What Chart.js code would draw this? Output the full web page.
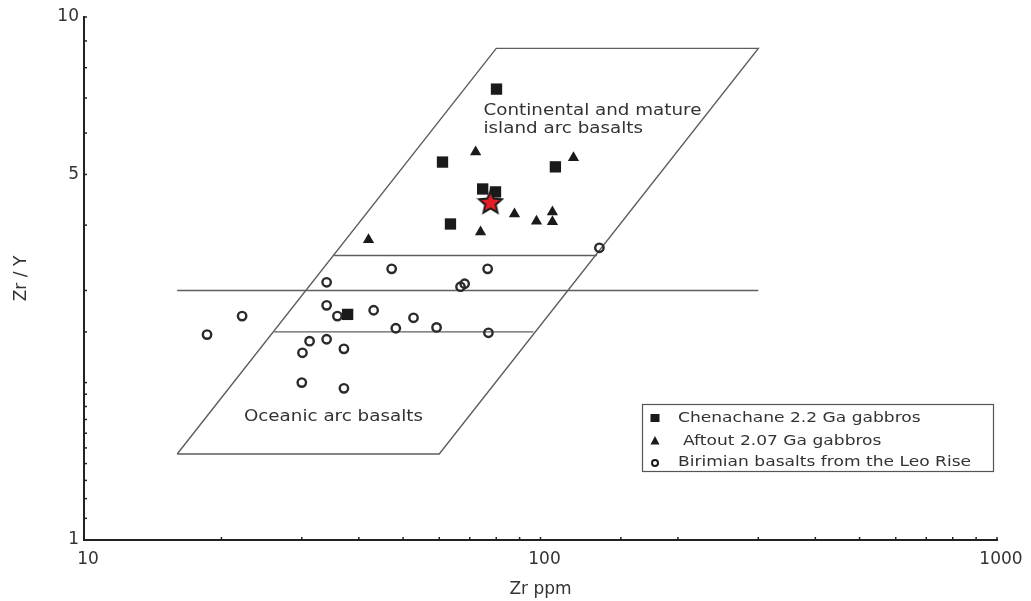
<!DOCTYPE html>
<html><head><meta charset="utf-8">
<script src="https://cdn.jsdelivr.net/npm/chart.js@4.4.0/dist/chart.umd.min.js"></script>
<style>html,body{margin:0;padding:0;background:#fff;}canvas{display:block;}</style>
</head><body>
<canvas id="c" width="1031" height="601"></canvas>
<script>
// ---- data (Zr ppm, Zr/Y) ----
const chenZr  = [80.1, 61.0, 107.8, 63.5, 74.7, 79.7, 37.8];
const chenZrY = [7.28, 5.28, 5.17, 4.02, 4.69, 4.63, 2.70];
const aftZr   = [72.1, 118.1, 87.7, 98.0, 106.2, 106.2, 73.9, 42.0];
const aftZrY  = [5.52, 5.38, 4.20, 4.07, 4.24, 4.06, 3.88, 3.75];
const birZr   = [134.6, 47.2, 76.6, 34.0, 68.2, 66.8, 34.0, 35.9, 43.1, 22.2, 18.6, 52.7, 48.2, 59.2, 76.9, 31.2, 34.0, 30.1, 37.1, 30.0, 37.1];
const birZrY  = [3.62, 3.30, 3.30, 3.11, 3.09, 3.05, 2.81, 2.68, 2.75, 2.68, 2.47, 2.66, 2.54, 2.55, 2.49, 2.40, 2.42, 2.28, 2.32, 2.00, 1.95];
const starZr  = [77.7];
const starZrY = [4.41];
// field boundaries
const fieldZr  = [16, 60, 300, 80, 16];
const fieldZrY = [1.46, 1.46, 8.71, 8.71, 1.46];
const div35Zr  = [35.3, 133];
const div35ZrY = [3.5, 3.5];
const div30Zr  = [16, 300];
const div30ZrY = [3, 3];
const div25Zr  = [26.1, 96.5];
const div25ZrY = [2.5, 2.5];
// ticks and names
const xTickLabels = [10, 100, 1000];
const yTickLabels = [1, 5, 10];
const seriesNames = ['Chenachane 2.2 Ga gabbros', 'Aftout 2.07 Ga gabbros', 'Birimian basalts from the Leo Rise'];
const fieldNames = ['Continental and mature', 'island arc basalts', 'Oceanic arc basalts'];

const pts = (xs, ys) => xs.map((v, i) => ({x: v, y: ys[i]}));
const hasVal = (arr, v) => arr.some(a => Math.abs(a - v) < 1e-6 * a);

function makeStar(R, r) {
  const s = Math.ceil(2 * R + 4);
  const c = document.createElement('canvas');
  c.width = s; c.height = s;
  const g = c.getContext('2d');
  g.beginPath();
  for (let i = 0; i < 10; i++) {
    const a = -Math.PI / 2 + i * Math.PI / 5;
    const rr = i % 2 ? r : R;
    g.lineTo(s / 2 + rr * Math.cos(a), s / 2 + rr * Math.sin(a));
  }
  g.closePath();
  g.fillStyle = '#e41e26'; g.fill();
  g.lineWidth = 2; g.strokeStyle = '#1a1a1a'; g.lineJoin = 'miter'; g.stroke();
  return c;
}

const SX = 1.22;
const TXT = '#333';
function sText(ctx, text, x, y, font) {
  ctx.save();
  ctx.font = font; ctx.fillStyle = TXT; ctx.textBaseline = 'middle'; ctx.textAlign = 'left';
  ctx.translate(x, y); ctx.scale(SX, 1); ctx.fillText(text, 0, 0);
  ctx.restore();
}

const innerTicks = {
  id: 'innerTicks',
  afterDraw(chart) {
    const {ctx, chartArea: ca, scales: {x, y}} = chart;
    ctx.save();
    ctx.strokeStyle = '#222'; ctx.lineWidth = 1.5;
    x.ticks.forEach(t => { const p = x.getPixelForValue(t.value); ctx.beginPath(); ctx.moveTo(p, ca.bottom); ctx.lineTo(p, ca.bottom - 3); ctx.stroke(); });
    y.ticks.forEach(t => { const p = y.getPixelForValue(t.value); ctx.beginPath(); ctx.moveTo(ca.left, p); ctx.lineTo(ca.left + 3, p); ctx.stroke(); });
    ctx.restore();
  }
};

const notes = {
  id: 'notes',
  afterDraw(chart) {
    const {ctx, scales: {x, y}} = chart;
    const f = '15px "DejaVu Sans"';
    sText(ctx, fieldNames[0], x.getPixelForValue(75), y.getPixelForValue(6.61), f);
    sText(ctx, fieldNames[1], x.getPixelForValue(75), y.getPixelForValue(6.11), f);
    sText(ctx, fieldNames[2], x.getPixelForValue(22.4), y.getPixelForValue(1.72), f);
  }
};

const boxLegend = {
  id: 'boxLegend',
  afterDraw(chart) {
    const ctx = chart.ctx;
    const bx = 642, by = 404, bw = 351, bh = 67;
    ctx.save();
    ctx.strokeStyle = '#555'; ctx.lineWidth = 1.2;
    ctx.strokeRect(bx + 0.5, by + 0.5, bw, bh);
    const rows = [418, 441, 462];
    const sx = 655;
    const ds = chart.data.datasets;
    seriesNames.forEach((name, i) => {
      const cy = rows[i];
      const d = ds.find(s => s.label === name);
      ctx.fillStyle = '#1a1a1a'; ctx.strokeStyle = '#1a1a1a';
      if (d.pointStyle === 'rect') {
        ctx.fillRect(sx - 4.5, cy - 4, 9, 8);
      } else if (d.pointStyle === 'triangle') {
        ctx.beginPath(); ctx.moveTo(sx, cy - 5); ctx.lineTo(sx + 4.5, cy + 3.5); ctx.lineTo(sx - 4.5, cy + 3.5); ctx.closePath(); ctx.fill();
      } else {
        ctx.lineWidth = 2; ctx.beginPath(); ctx.arc(sx, cy + 1, 3, 0, Math.PI * 2); ctx.stroke();
      }
      sText(ctx, name, i === 1 ? 683 : 678, cy, '14px "DejaVu Sans"');
    });
    ctx.restore();
  }
};

const lineStyle = {type: 'scatter', showLine: true, pointRadius: 0, borderColor: '#5e5e5e', borderWidth: 1.4, fill: false, order: 10};

new Chart(document.getElementById('c'), {
  type: 'scatter',
  data: {
    datasets: [
      {label: 'star', data: pts(starZr, starZrY), pointStyle: makeStar(12, 5.5), pointRadius: 12, order: 0},
      {label: seriesNames[0], data: pts(chenZr, chenZrY), pointStyle: 'rect', pointRadius: 8, backgroundColor: '#1a1a1a', borderColor: '#1a1a1a', borderWidth: 0, order: 1},
      {label: seriesNames[1], data: pts(aftZr, aftZrY), pointStyle: 'triangle', pointRadius: 6.5, backgroundColor: '#1a1a1a', borderColor: '#1a1a1a', borderWidth: 0, order: 2},
      {label: seriesNames[2], data: pts(birZr, birZrY), pointStyle: 'circle', pointRadius: 4.2, backgroundColor: 'rgba(0,0,0,0)', borderColor: '#2a2a2a', borderWidth: 2.4, order: 3},
      Object.assign({label: 'field', data: pts(fieldZr, fieldZrY)}, lineStyle),
      Object.assign({label: 'div35', data: pts(div35Zr, div35ZrY)}, lineStyle),
      Object.assign({label: 'div30', data: pts(div30Zr, div30ZrY)}, lineStyle),
      Object.assign({label: 'div25', data: pts(div25Zr, div25ZrY)}, lineStyle)
    ]
  },
  options: {
    responsive: false,
    animation: false,
    devicePixelRatio: 1,
    events: [],
    layout: {padding: {top: 17, right: 34, left: 0, bottom: 0}},
    plugins: {legend: {display: false}, tooltip: {enabled: false}},
    scales: {
      x: {
        type: 'logarithmic', min: 10, max: 1000,
        grid: {display: false, drawTicks: false},
        border: {display: true, color: '#222', width: 2},
        ticks: {autoSkip: false, maxRotation: 0, padding: 9, labelOffset: 4, color: '#333', font: {family: 'DejaVu Sans', size: 17},
          callback: v => hasVal(xTickLabels, v) ? String(v) : ''},
        title: {display: true, text: 'Zr ppm', color: '#333', font: {family: 'DejaVu Sans', size: 17}, padding: {top: 0, bottom: 1}},
        afterFit(s) { s.height = 61; }
      },
      y: {
        type: 'logarithmic', min: 1, max: 10,
        grid: {display: false, drawTicks: false},
        border: {display: true, color: '#222', width: 2},
        ticks: {autoSkip: false, padding: 5, color: '#333', font: {family: 'DejaVu Sans', size: 17},
          callback: v => hasVal(yTickLabels, v) ? String(v) : ''},
        title: {display: true, text: 'Zr / Y', color: '#333', font: {family: 'DejaVu Sans', size: 17}, padding: {top: 11, bottom: 0}},
        afterFit(s) { s.width = 84; }
      }
    }
  },
  plugins: [innerTicks, notes, boxLegend]
});
</script>
</body></html>
